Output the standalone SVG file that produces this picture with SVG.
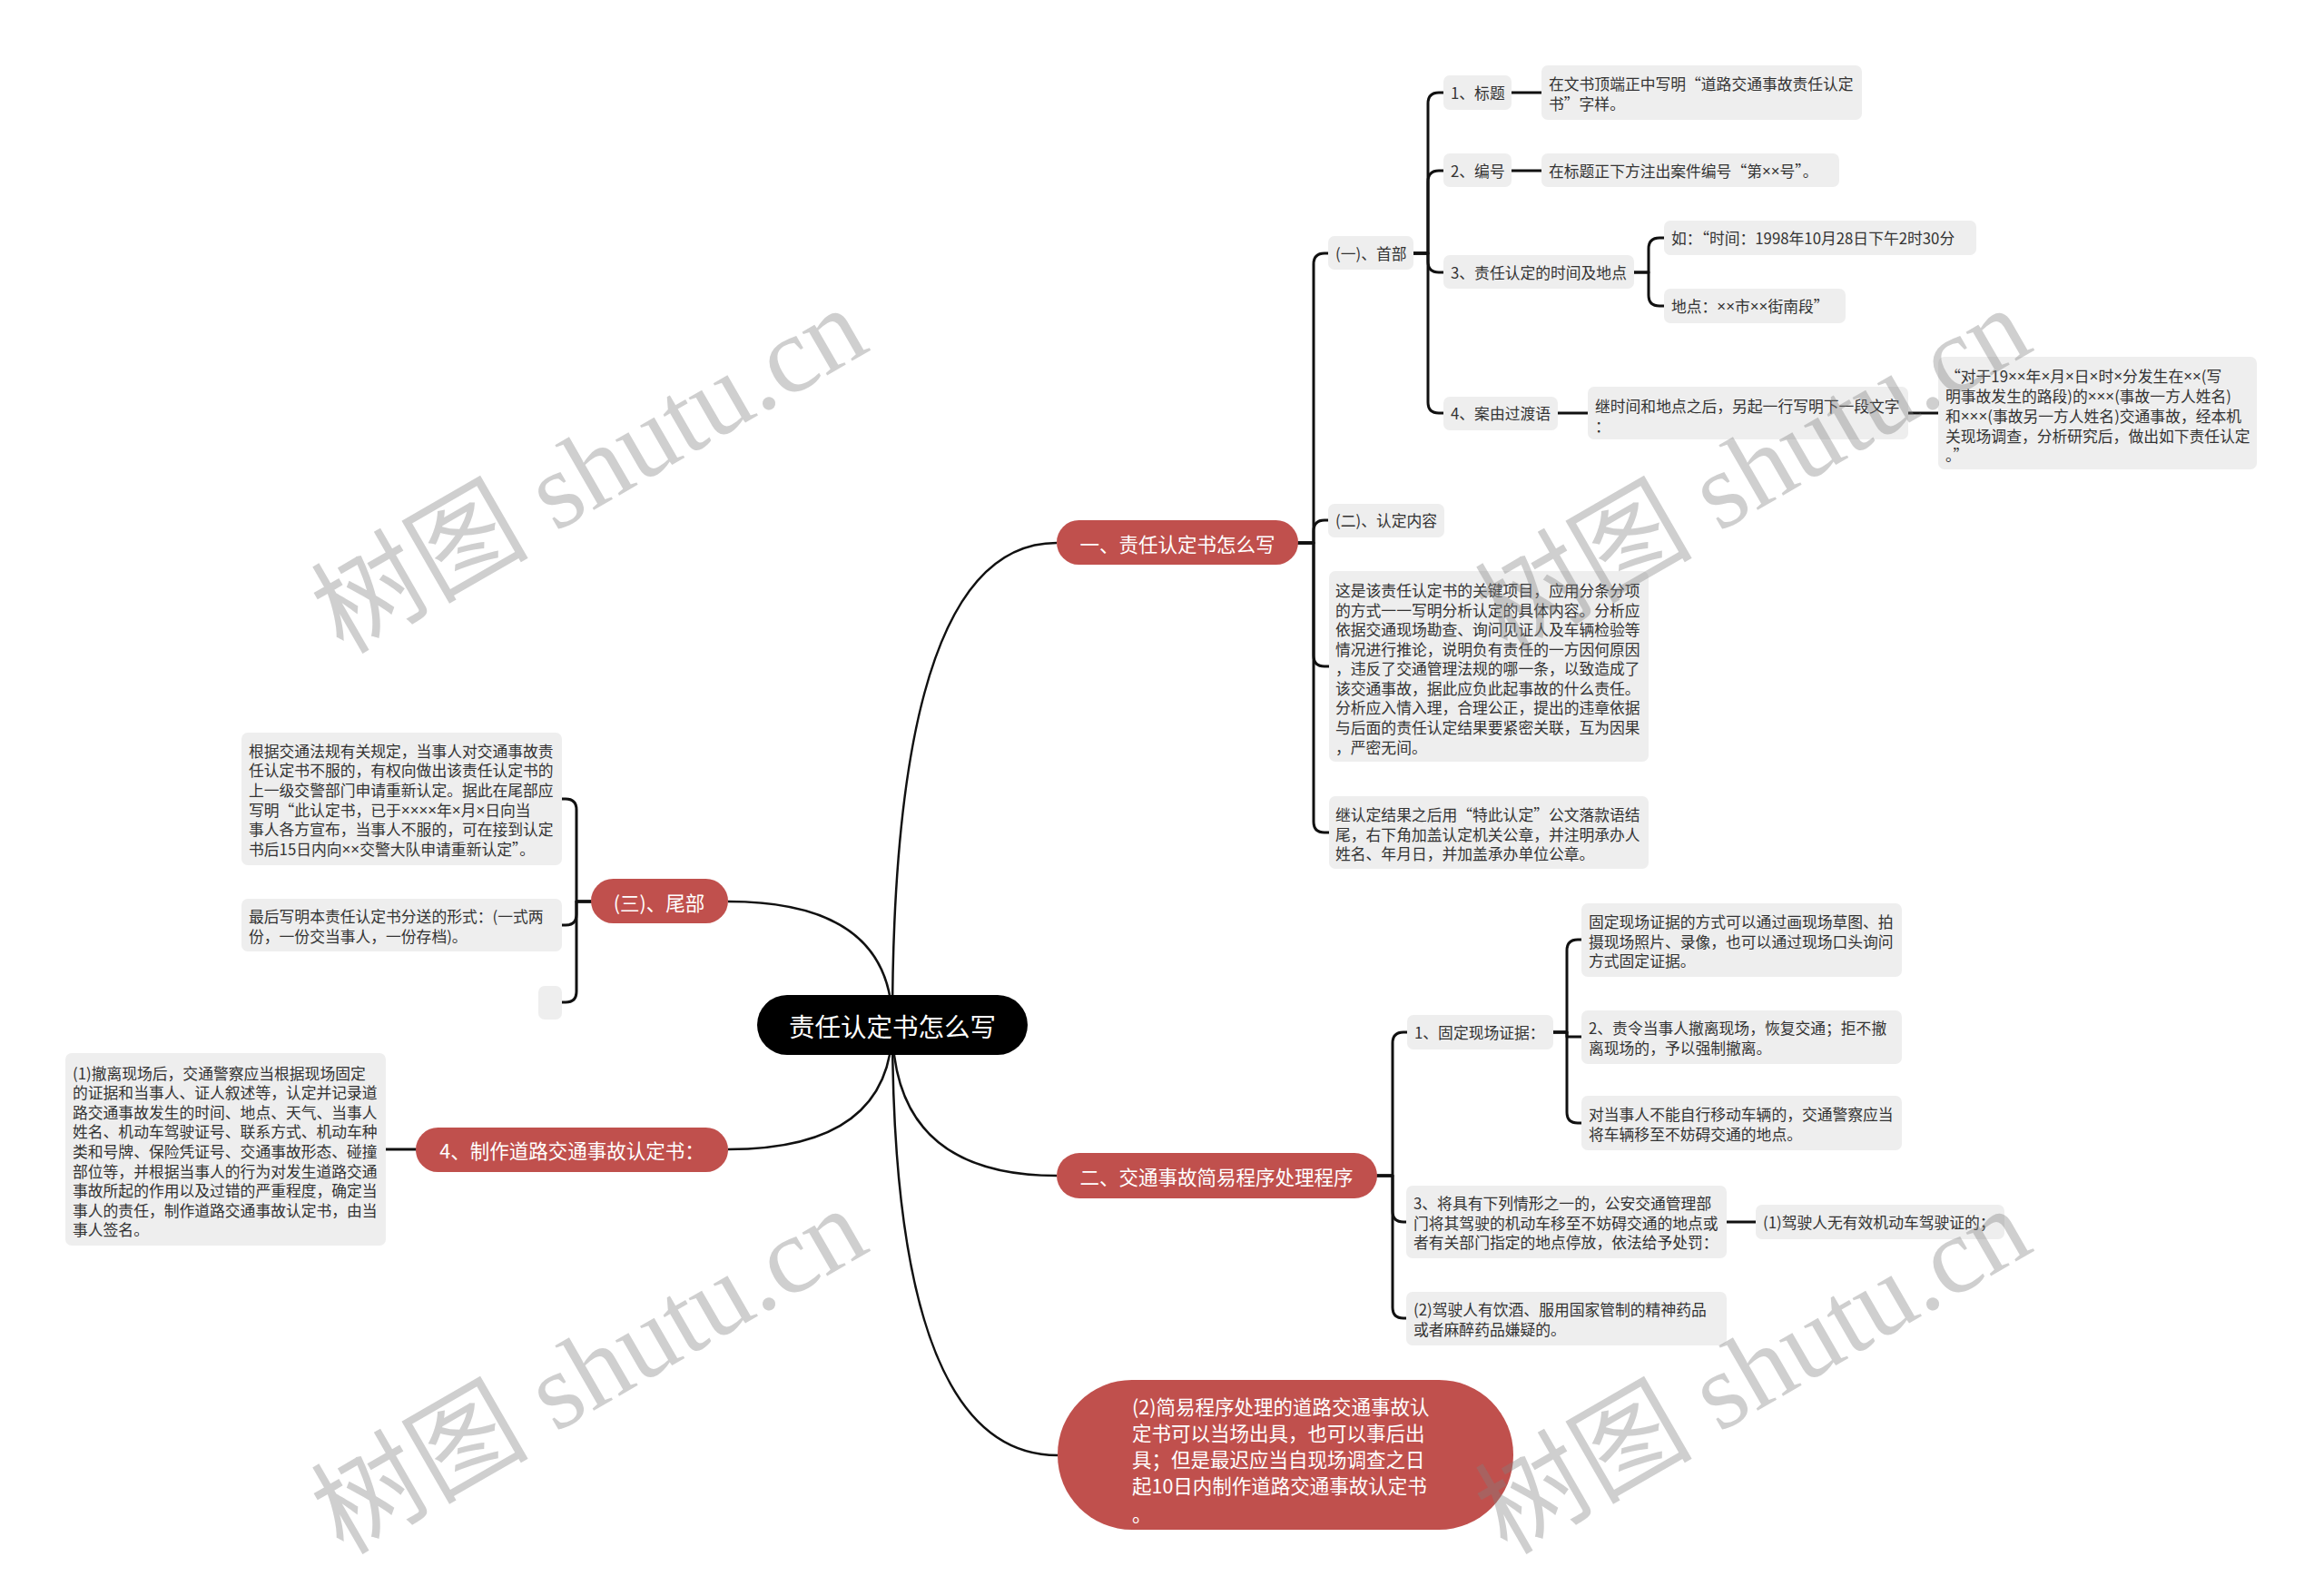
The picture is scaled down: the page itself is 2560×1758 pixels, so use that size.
<svg xmlns="http://www.w3.org/2000/svg" width="2560" height="1758" viewBox="0 0 2560 1758">
<style>
.bg{fill:#ffffff}
.box{fill:#eeeeee}
.red{fill:#c0504d}
.root{fill:#000000}
.t{font-family:"Noto Sans CJK SC","Liberation Sans",sans-serif;font-size:16.8px;fill:#333333;dominant-baseline:central}
.x{font-family:"Liberation Sans","Noto Sans CJK SC",sans-serif}
.rt{font-family:"Noto Sans CJK SC","Liberation Sans",sans-serif;font-size:21.5px;fill:#ffffff;dominant-baseline:central}
.roott{font-family:"Noto Sans CJK SC","Liberation Sans",sans-serif;font-size:28.5px;fill:#ffffff;dominant-baseline:central}
.c{fill:none;stroke:#111111;stroke-width:3;stroke-linecap:round;stroke-linejoin:round}
.cr{fill:none;stroke:#111111;stroke-width:2.5}
.wm{font-family:"Liberation Serif","Noto Sans CJK SC",serif;font-size:120px;fill:#808080;fill-opacity:0.38;dominant-baseline:central}
</style>
<rect class="bg" x="0" y="0" width="2560" height="1758"/>

<g id="connectors">
  <path class="cr" d="M983 1129 Q983 598 1164 598"/>
  <path class="cr" d="M983 1129 Q983 993 802 993"/>
  <path class="cr" d="M983 1129 Q983 1266 802 1266"/>
  <path class="cr" d="M983 1129 Q983 1295 1164 1295"/>
  <path class="cr" d="M983 1129 Q983 1603 1165 1603"/>

  <path class="c" d="M1430 598 H1447 V291 Q1447 279 1459 279 H1463"/>
  <path class="c" d="M1430 598 H1447 V585 Q1447 573 1459 573 H1463"/>
  <path class="c" d="M1430 598 H1447 V722 Q1447 734 1459 734 H1464"/>
  <path class="c" d="M1430 598 H1447 V905 Q1447 917 1459 917 H1464"/>

  <path class="c" d="M1557 279 H1573 V114 Q1573 102 1585 102 H1590"/>
  <path class="c" d="M1557 279 H1573 V200 Q1573 188 1585 188 H1590"/>
  <path class="c" d="M1557 279 H1573 V288 Q1573 300 1585 300 H1590"/>
  <path class="c" d="M1557 279 H1573 V443 Q1573 455 1585 455 H1590"/>

  <path class="c" d="M1665 102 H1698"/>
  <path class="c" d="M1665 188 H1698"/>

  <path class="c" d="M1800 300 H1816 V274 Q1816 262 1828 262 H1833"/>
  <path class="c" d="M1800 300 H1816 V325 Q1816 337 1828 337 H1833"/>

  <path class="c" d="M1716 455 H1749"/>
  <path class="c" d="M2102 455 H2135"/>

  <path class="c" d="M1517 1295 H1534 V1149 Q1534 1137 1546 1137 H1550"/>
  <path class="c" d="M1517 1295 H1534 V1334 Q1534 1346 1546 1346 H1549"/>
  <path class="c" d="M1517 1295 H1534 V1440 Q1534 1452 1546 1452 H1549"/>

  <path class="c" d="M1711 1137 H1726 V1047 Q1726 1035 1738 1035 H1742"/>
  <path class="c" d="M1711 1137 H1726 V1142 H1742"/>
  <path class="c" d="M1711 1137 H1726 V1225 Q1726 1237 1738 1237 H1742"/>

  <path class="c" d="M1902 1346 H1934"/>

  <path class="c" d="M651 993 H635 V892 Q635 880 623 880 H619"/>
  <path class="c" d="M651 993 H635 V1007 Q635 1019 623 1019 H619"/>
  <path class="c" d="M651 993 H635 V1092 Q635 1104 623 1104 H619"/>

  <path class="c" d="M458 1266 H425"/>
</g>

<g id="root">
  <rect class="root" x="834" y="1096" width="298" height="66" rx="33"/>
  <text class="roott" x="983" y="1129" text-anchor="middle">责任认定书怎么写</text>
</g>

<g id="b1">
  <rect class="red" x="1164" y="573" width="266" height="49" rx="24.5"/>
  <text class="rt" x="1297" y="598" text-anchor="middle">一、责任认定书怎么写</text>
</g>
<g id="b1-1">
  <rect class="box" x="1463" y="260" width="94" height="37" rx="7"/>
  <text class="t" x="1471" y="279">(一)、首部</text>
</g>
<g id="b1-1-1">
  <rect class="box" x="1590" y="83" width="75" height="38" rx="7"/>
  <text class="t" x="1598" y="102">1、标题</text>
</g>
<g id="b1-1-1a">
  <rect class="box" x="1698" y="72" width="353" height="60" rx="7"/>
  <text class="t"><tspan x="1706" y="92">在文书顶端正中写明“道路交通事故责任认定</tspan><tspan x="1706" y="114">书”字样。</tspan></text>
</g>
<g id="b1-1-2">
  <rect class="box" x="1590" y="169" width="75" height="37" rx="7"/>
  <text class="t" x="1598" y="188">2、编号</text>
</g>
<g id="b1-1-2a">
  <rect class="box" x="1698" y="169" width="328" height="37" rx="7"/>
  <text class="t" x="1706" y="188">在标题正下方注出案件编号“第<tspan class="x">××</tspan>号”。</text>
</g>
<g id="b1-1-3">
  <rect class="box" x="1590" y="281" width="210" height="37" rx="7"/>
  <text class="t" x="1598" y="300">3、责任认定的时间及地点</text>
</g>
<g id="b1-1-3a">
  <rect class="box" x="1833" y="243" width="344" height="38" rx="7"/>
  <text class="t" x="1841" y="262">如：“时间：1998年10月28日下午2时30分</text>
</g>
<g id="b1-1-3b">
  <rect class="box" x="1833" y="318" width="200" height="38" rx="7"/>
  <text class="t" x="1841" y="337">地点：<tspan class="x">××</tspan>市<tspan class="x">××</tspan>街南段”</text>
</g>
<g id="b1-1-4">
  <rect class="box" x="1590" y="437" width="126" height="37" rx="7"/>
  <text class="t" x="1598" y="455">4、案由过渡语</text>
</g>
<g id="b1-1-4a">
  <rect class="box" x="1749" y="426" width="353" height="58" rx="7"/>
  <text class="t"><tspan x="1757" y="447">继时间和地点之后，另起一行写明下一段文字</tspan><tspan x="1757" y="469">：</tspan></text>
</g>
<g id="b1-1-4b">
  <rect class="box" x="2135" y="393" width="351" height="124" rx="7"/>
  <text class="t"><tspan x="2143" y="414">“对于19<tspan class="x">××</tspan>年<tspan class="x">×</tspan>月<tspan class="x">×</tspan>日<tspan class="x">×</tspan>时<tspan class="x">×</tspan>分发生在<tspan class="x">××</tspan>(写</tspan><tspan x="2143" y="436">明事故发生的路段)的<tspan class="x">×××</tspan>(事故一方人姓名)</tspan><tspan x="2143" y="458">和<tspan class="x">×××</tspan>(事故另一方人姓名)交通事故，经本机</tspan><tspan x="2143" y="480">关现场调查，分析研究后，做出如下责任认定</tspan><tspan x="2143" y="501">。”</tspan></text>
</g>
<g id="b1-2">
  <rect class="box" x="1463" y="555" width="128" height="37" rx="7"/>
  <text class="t" x="1471" y="573">(二)、认定内容</text>
</g>
<g id="b1-3">
  <rect class="box" x="1464" y="629" width="352" height="210" rx="7"/>
  <text class="t"><tspan x="1471" y="650">这是该责任认定书的关键项目，应用分条分项</tspan><tspan x="1471" y="672">的方式一一写明分析认定的具体内容。分析应</tspan><tspan x="1471" y="693">依据交通现场勘查、询问见证人及车辆检验等</tspan><tspan x="1471" y="715">情况进行推论，说明负有责任的一方因何原因</tspan><tspan x="1471" y="736">，违反了交通管理法规的哪一条，以致造成了</tspan><tspan x="1471" y="758">该交通事故，据此应负此起事故的什么责任。</tspan><tspan x="1471" y="779">分析应入情入理，合理公正，提出的违章依据</tspan><tspan x="1471" y="801">与后面的责任认定结果要紧密关联，互为因果</tspan><tspan x="1471" y="823">，严密无间。</tspan></text>
</g>
<g id="b1-4">
  <rect class="box" x="1464" y="877" width="352" height="80" rx="7"/>
  <text class="t"><tspan x="1471" y="897">继认定结果之后用“特此认定”公文落款语结</tspan><tspan x="1471" y="919">尾，右下角加盖认定机关公章，并注明承办人</tspan><tspan x="1471" y="940">姓名、年月日，并加盖承办单位公章。</tspan></text>
</g>

<g id="b2">
  <rect class="red" x="1164" y="1270" width="353" height="50" rx="25"/>
  <text class="rt" x="1340" y="1295" text-anchor="middle">二、交通事故简易程序处理程序</text>
</g>
<g id="b2-1">
  <rect class="box" x="1550" y="1118" width="161" height="38" rx="7"/>
  <text class="t" x="1558" y="1137">1、固定现场证据：</text>
</g>
<g id="b2-1a">
  <rect class="box" x="1742" y="995" width="353" height="81" rx="7"/>
  <text class="t"><tspan x="1750" y="1015">固定现场证据的方式可以通过画现场草图、拍</tspan><tspan x="1750" y="1037">摄现场照片、录像，也可以通过现场口头询问</tspan><tspan x="1750" y="1058">方式固定证据。</tspan></text>
</g>
<g id="b2-1b">
  <rect class="box" x="1742" y="1113" width="353" height="59" rx="7"/>
  <text class="t"><tspan x="1750" y="1132">2、责令当事人撤离现场，恢复交通；拒不撤</tspan><tspan x="1750" y="1154">离现场的，予以强制撤离。</tspan></text>
</g>
<g id="b2-1c">
  <rect class="box" x="1742" y="1207" width="353" height="60" rx="7"/>
  <text class="t"><tspan x="1750" y="1227">对当事人不能自行移动车辆的，交通警察应当</tspan><tspan x="1750" y="1249">将车辆移至不妨碍交通的地点。</tspan></text>
</g>
<g id="b2-2">
  <rect class="box" x="1549" y="1306" width="353" height="80" rx="7"/>
  <text class="t"><tspan x="1557" y="1325">3、将具有下列情形之一的，公安交通管理部</tspan><tspan x="1557" y="1347">门将其驾驶的机动车移至不妨碍交通的地点或</tspan><tspan x="1557" y="1368">者有关部门指定的地点停放，依法给予处罚：</tspan></text>
</g>
<g id="b2-2a">
  <rect class="box" x="1934" y="1327" width="274" height="38" rx="7"/>
  <text class="t" x="1942" y="1346">(1)驾驶人无有效机动车驾驶证的；</text>
</g>
<g id="b2-3">
  <rect class="box" x="1549" y="1423" width="353" height="59" rx="7"/>
  <text class="t"><tspan x="1557" y="1442">(2)驾驶人有饮酒、服用国家管制的精神药品</tspan><tspan x="1557" y="1464">或者麻醉药品嫌疑的。</tspan></text>
</g>

<g id="b3">
  <rect class="red" x="1165" y="1520" width="502" height="165" rx="82"/>
  <text class="rt"><tspan x="1247" y="1548">(2)简易程序处理的道路交通事故认</tspan><tspan x="1247" y="1577">定书可以当场出具，也可以事后出</tspan><tspan x="1247" y="1606">具；但是最迟应当自现场调查之日</tspan><tspan x="1247" y="1635">起10日内制作道路交通事故认定书</tspan><tspan x="1247" y="1666">。</tspan></text>
</g>

<g id="b4">
  <rect class="red" x="651" y="968" width="151" height="49" rx="24.5"/>
  <text class="rt" x="726" y="993" text-anchor="middle">(三)、尾部</text>
</g>
<g id="b4-1">
  <rect class="box" x="266" y="807" width="353" height="146" rx="7"/>
  <text class="t"><tspan x="274" y="827">根据交通法规有关规定，当事人对交通事故责</tspan><tspan x="274" y="848">任认定书不服的，有权向做出该责任认定书的</tspan><tspan x="274" y="870">上一级交警部门申请重新认定。据此在尾部应</tspan><tspan x="274" y="892">写明“此认定书，已于<tspan class="x">××××</tspan>年<tspan class="x">×</tspan>月<tspan class="x">×</tspan>日向当</tspan><tspan x="274" y="913">事人各方宣布，当事人不服的，可在接到认定</tspan><tspan x="274" y="935">书后15日内向<tspan class="x">××</tspan>交警大队申请重新认定”。</tspan></text>
</g>
<g id="b4-2">
  <rect class="box" x="266" y="990" width="353" height="58" rx="7"/>
  <text class="t"><tspan x="274" y="1009">最后写明本责任认定书分送的形式：(一式两</tspan><tspan x="274" y="1031">份，一份交当事人，一份存档)。</tspan></text>
</g>
<g id="b4-3">
  <rect class="box" x="593" y="1086" width="26" height="37" rx="7"/>
</g>

<g id="b5">
  <rect class="red" x="458" y="1242" width="344" height="49" rx="24.5"/>
  <text class="rt" x="630" y="1266" text-anchor="middle">4、制作道路交通事故认定书：</text>
</g>
<g id="b5-1">
  <rect class="box" x="72" y="1160" width="353" height="212" rx="7"/>
  <text class="t"><tspan x="80" y="1182">(1)撤离现场后，交通警察应当根据现场固定</tspan><tspan x="80" y="1203">的证据和当事人、证人叙述等，认定并记录道</tspan><tspan x="80" y="1225">路交通事故发生的时间、地点、天气、当事人</tspan><tspan x="80" y="1246">姓名、机动车驾驶证号、联系方式、机动车种</tspan><tspan x="80" y="1268">类和号牌、保险凭证号、交通事故形态、碰撞</tspan><tspan x="80" y="1290">部位等，并根据当事人的行为对发生道路交通</tspan><tspan x="80" y="1311">事故所起的作用以及过错的严重程度，确定当</tspan><tspan x="80" y="1333">事人的责任，制作道路交通事故认定书，由当</tspan><tspan x="80" y="1354">事人签名。</tspan></text>
</g>

<g id="watermarks">
  <text class="wm" x="649" y="518" text-anchor="middle" transform="rotate(-30 649 518)">树图 shutu.cn</text>
  <text class="wm" x="1931" y="518" text-anchor="middle" transform="rotate(-30 1931 518)">树图 shutu.cn</text>
  <text class="wm" x="649" y="1510" text-anchor="middle" transform="rotate(-30 649 1510)">树图 shutu.cn</text>
  <text class="wm" x="1931" y="1510" text-anchor="middle" transform="rotate(-30 1931 1510)">树图 shutu.cn</text>
</g>
</svg>
